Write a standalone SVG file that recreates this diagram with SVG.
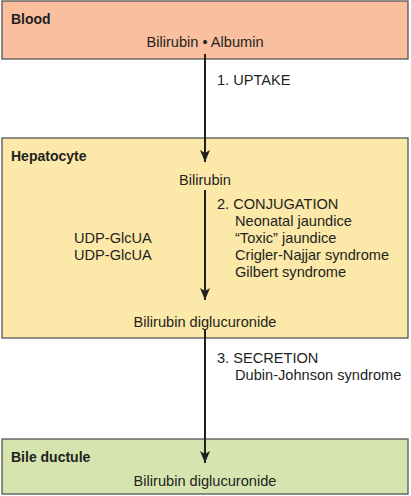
<svg xmlns="http://www.w3.org/2000/svg" width="411" height="496" viewBox="0 0 411 496">
<defs>
<style>
.box{stroke:#555;stroke-width:1.3}
.t{font-family:"Liberation Sans",Arial,sans-serif;font-size:14.6px;fill:#231f20}
.b{font-weight:bold;font-size:14px}
.c{text-anchor:middle}
.ln{stroke:#231f20;stroke-width:2;fill:none}
</style>
<marker id="ah" viewBox="0 0 12 10" refX="12" refY="5" markerWidth="12" markerHeight="10" markerUnits="userSpaceOnUse" orient="auto">
<path d="M0,0 L12,5 L0,10 L3,5 Z" fill="#231f20"/>
</marker>
</defs>
<rect width="411" height="496" fill="#fff"/>
<g id="blood">
<rect class="box" x="2" y="1" width="406" height="58" fill="#F9BF9F"/>
<text class="t b" x="11" y="24">Blood</text>
<text class="t c" x="205" y="47">Bilirubin • Albumin</text>
</g>
<g id="hepatocyte">
<rect class="box" x="2" y="138" width="406" height="200" fill="#FCE8A8"/>
<text class="t b" x="11" y="161">Hepatocyte</text>
<text class="t c" x="205" y="185">Bilirubin</text>
<text class="t" x="74" y="243">UDP-GlcUA</text>
<text class="t" x="74" y="260">UDP-GlcUA</text>
<text class="t c" x="205" y="327">Bilirubin diglucuronide</text>
</g>
<g id="bile">
<rect class="box" x="2" y="439" width="406" height="55" fill="#D6E4B0"/>
<text class="t b" x="11" y="462">Bile ductule</text>
<text class="t c" x="205" y="486">Bilirubin diglucuronide</text>
</g>
<g id="connectors">
<line class="ln" x1="205" y1="54" x2="205" y2="162" marker-end="url(#ah)"/>
<line class="ln" x1="205" y1="190" x2="205" y2="300" marker-end="url(#ah)"/>
<line class="ln" x1="205" y1="330" x2="205" y2="463" marker-end="url(#ah)"/>
</g>
<g id="labels">
<text class="t" x="217" y="85">1. UPTAKE</text>
<text class="t" x="217" y="209">2. CONJUGATION</text>
<text class="t" x="235" y="226">Neonatal jaundice</text>
<text class="t" x="235" y="243">“Toxic” jaundice</text>
<text class="t" x="235" y="260">Crigler-Najjar syndrome</text>
<text class="t" x="235" y="277">Gilbert syndrome</text>
<text class="t" x="217" y="363">3. SECRETION</text>
<text class="t" x="235" y="380">Dubin-Johnson syndrome</text>
</g>
</svg>
